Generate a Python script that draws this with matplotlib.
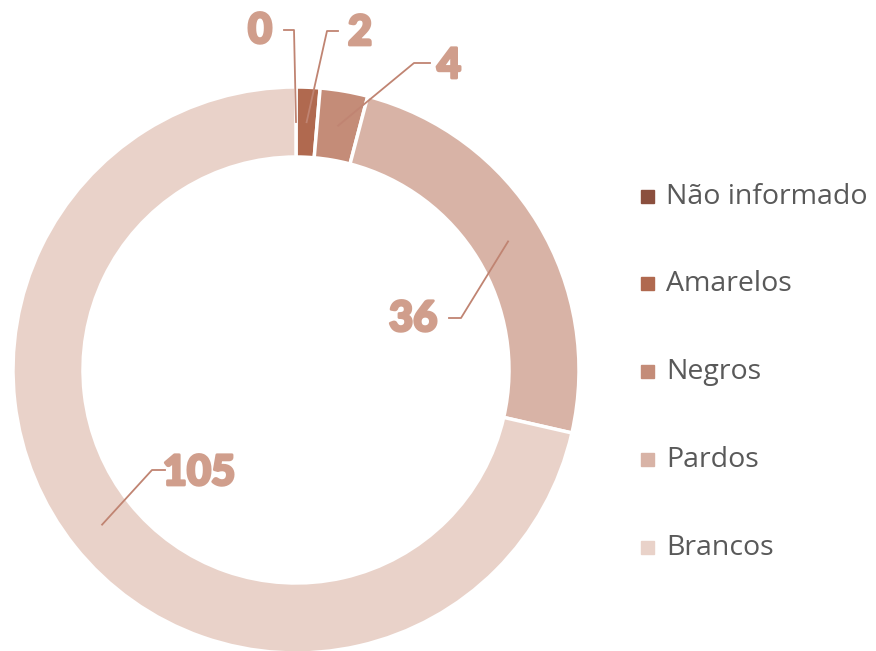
import numpy as np
import matplotlib.pyplot as plt
import matplotlib.patheffects as pe

categorias = ["Não informado", "Amarelos", "Negros", "Pardos", "Brancos"]
valores = [0, 2, 4, 36, 105]
cores = ["#8B4F3E", "#B0694F", "#C48C78", "#D8B3A6", "#E9D2C9"]

fig = plt.figure(figsize=(8.76, 6.51), dpi=100)
ax = fig.add_axes([0, 0, 1, 1])

cx, cy, R, w = 296, 370, 283, 70
# eixo y invertido: startangle -90 + anti-horário = topo, sentido horário na tela
wedges, _ = ax.pie(valores, colors=cores, startangle=-90, counterclock=True,
                   center=(cx, cy), radius=R,
                   wedgeprops=dict(width=w, edgecolor="white", linewidth=2.5))
ax.set_xlim(0, 876)
ax.set_ylim(651, 0)
ax.set_aspect("equal")
ax.axis("off")

# rótulos (posição do texto, cotovelo da linha)
rot_txt = [(260, 31), (360, 33), (449, 66), (413, 319), (199, 473)]
rot_cot = [[(284, 30), (294, 30)], [(338, 31), (327, 31)],
           [(430, 63), (414, 63)], [(449, 318), (461, 318)],
           [(165, 470), (152, 470)]]
total = sum(valores)
acum = 0
for i, v in enumerate(valores):
    meio = 90 - (acum + v / 2) / total * 360
    acum += v
    px = cx + (R - w / 2) * np.cos(np.radians(meio))
    py = cy - (R - w / 2) * np.sin(np.radians(meio))
    pts = rot_cot[i] + [(px, py)]
    ax.plot([p[0] for p in pts], [p[1] for p in pts], color="#C08472", lw=1.3)
    ax.text(rot_txt[i][0], rot_txt[i][1], str(v), ha="center", va="center",
            fontsize=30, fontweight="black", family="Lato", color="#D09E8C",
            path_effects=[pe.withStroke(linewidth=2, foreground="#D09E8C")])

# legenda
ys = [197, 284, 372, 460, 548]
for nome, cor, y in zip(categorias, cores, ys):
    ax.add_patch(plt.Rectangle((641, y - 7), 13, 13, color=cor))
    ax.text(666, y, nome, ha="left", va="center", fontsize=20.5,
            family="Open Sans", color="#595959")

fig.savefig("out.png", dpi=100)
